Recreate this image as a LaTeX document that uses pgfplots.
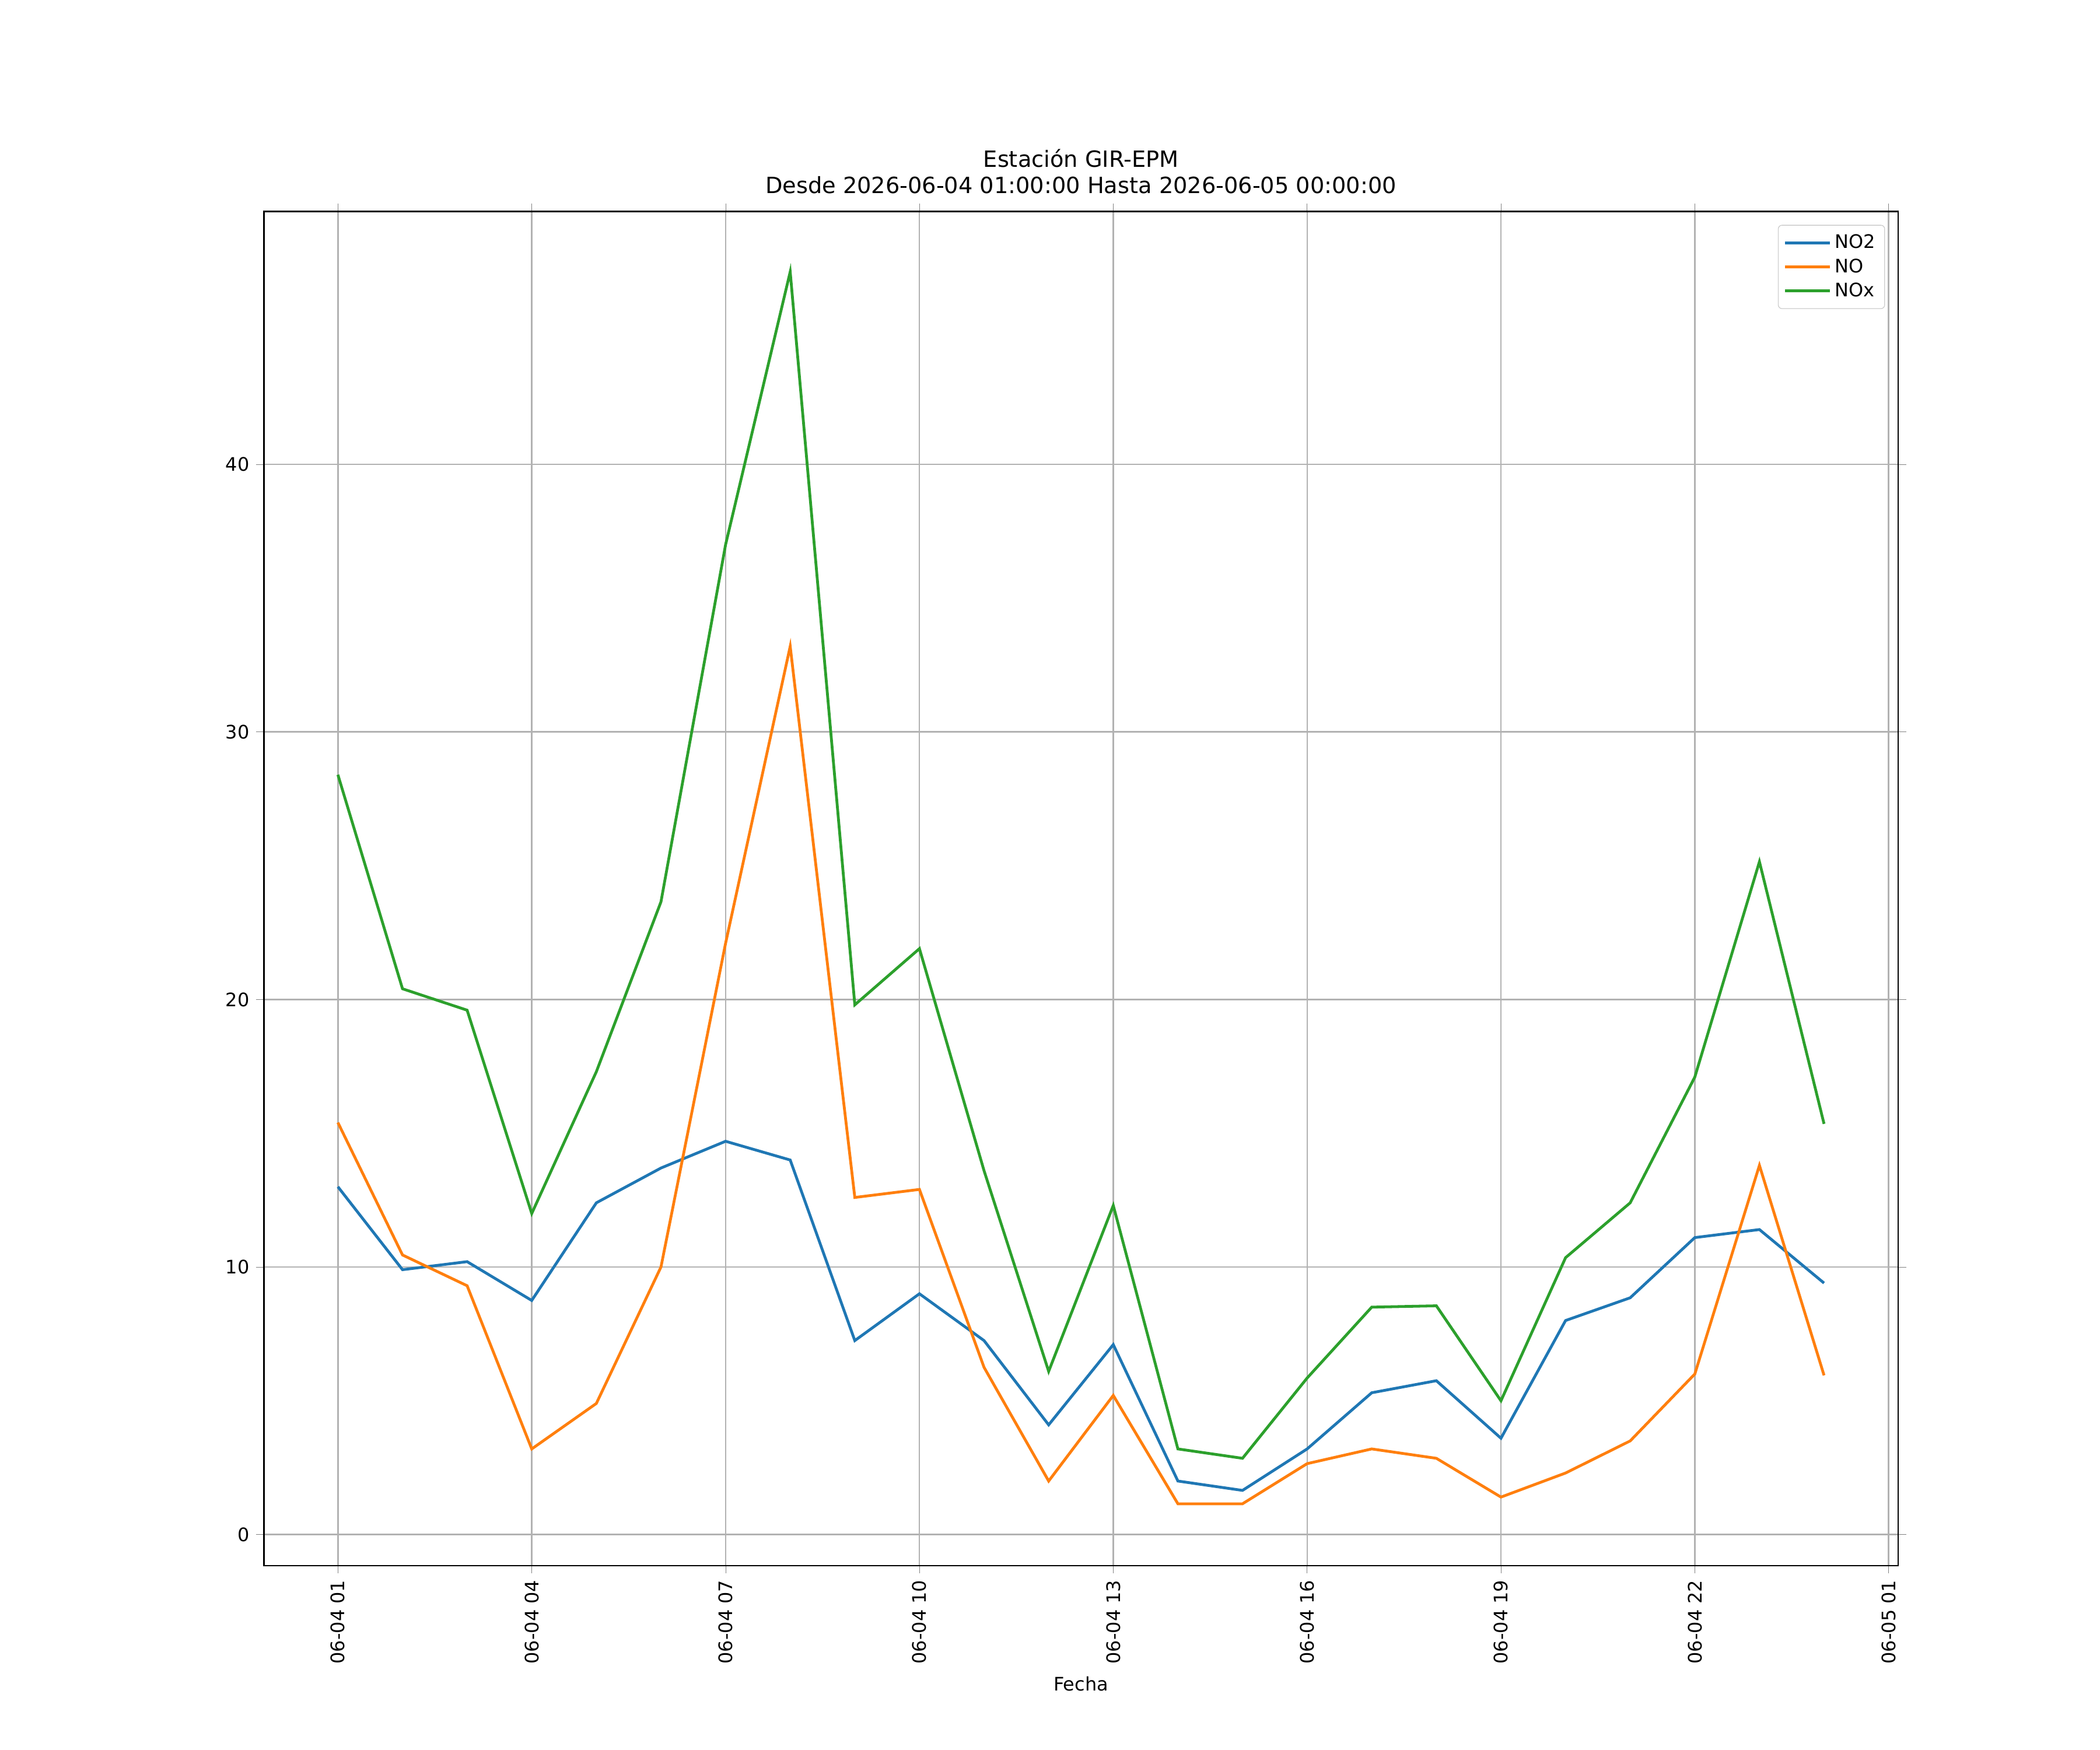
\documentclass[border=0pt]{standalone}
\usepackage{pgfplots}
\pgfplotsset{compat=1.18}
\usepackage{fontspec}
\setmainfont{DejaVu Sans}
\definecolor{c1}{HTML}{1F77B4}
\definecolor{c2}{HTML}{FF7F0E}
\definecolor{c3}{HTML}{2CA02C}
\begin{document}
\begin{tikzpicture}
\begin{axis}[at={(0,0)},anchor=south west,scale only axis,width=12.14in,height=10.06in,
xmin=-0.146,xmax=25.146,ymin=-1.16,ymax=49.46,
xtick={1,4,7,10,13,16,19,22,25},
xticklabels={06-04 01,06-04 04,06-04 07,06-04 10,06-04 13,06-04 16,06-04 19,06-04 22,06-05 01},
xticklabel style={rotate=90,anchor=east},
ytick={0,10,20,30,40},
/pgf/number format/assume math mode=true,
tick label style={font=\fontsize{10}{12}\selectfont},
grid=major,grid style={color=black!30,line width=0.8pt},
tick align=outside,axis line style={line width=0.8pt},
xlabel={Fecha},label style={font=\fontsize{10}{12}\selectfont},
title={Estación GIR-EPM\\Desde 2026-06-04 01:00:00 Hasta 2026-06-05 00:00:00},
title style={align=center,font=\fontsize{12}{14}\selectfont},
legend cell align=left,
legend style={at={(0.992,0.99)},anchor=north east,font=\fontsize{10}{16}\selectfont,draw=black!20,rounded corners=2pt,inner sep=3pt},
legend image post style={xscale=1.4},
every axis plot/.append style={line width=1.5pt}]
\addplot[c1] coordinates {(1,13.0)(2,9.9)(3,10.2)(4,8.75)(5,12.4)(6,13.7)(7,14.7)(8,14.0)(9,7.25)(10,9.0)(11,7.25)(12,4.1)(13,7.1)(14,2.0)(15,1.65)(16,3.2)(17,5.3)(18,5.75)(19,3.6)(20,8.0)(21,8.85)(22,11.1)(23,11.4)(24,9.4)};
\addlegendentry{NO2}
\addplot[c2] coordinates {(1,15.4)(2,10.45)(3,9.3)(4,3.2)(5,4.9)(6,10.0)(7,22.1)(8,33.2)(9,12.6)(10,12.9)(11,6.25)(12,2.0)(13,5.2)(14,1.15)(15,1.15)(16,2.65)(17,3.2)(18,2.85)(19,1.4)(20,2.3)(21,3.5)(22,6.0)(23,13.8)(24,5.95)};
\addlegendentry{NO}
\addplot[c3] coordinates {(1,28.4)(2,20.4)(3,19.6)(4,12.0)(5,17.3)(6,23.65)(7,37.0)(8,47.2)(9,19.8)(10,21.9)(11,13.6)(12,6.1)(13,12.3)(14,3.2)(15,2.85)(16,5.85)(17,8.5)(18,8.55)(19,5.0)(20,10.35)(21,12.4)(22,17.1)(23,25.15)(24,15.35)};
\addlegendentry{NOx}
\end{axis}
\path (-1.96in,-1.37in) rectangle (13.64in,11.63in);
\end{tikzpicture}
\end{document}
